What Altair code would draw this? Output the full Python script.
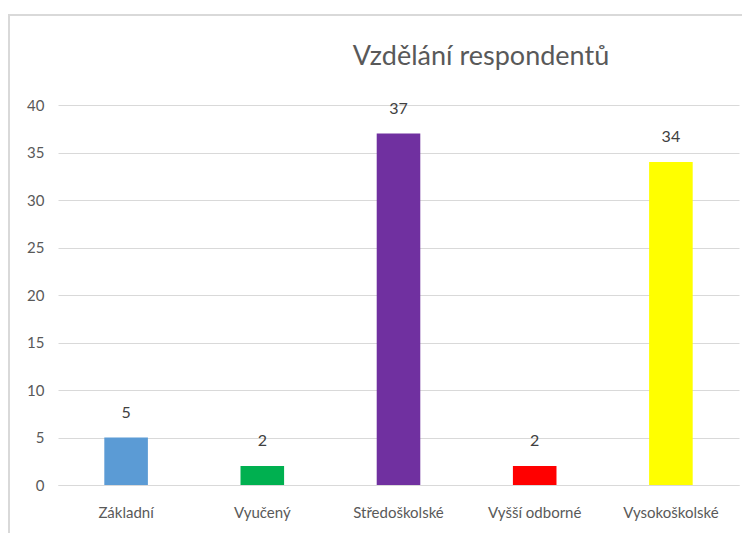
import altair as alt
import pandas as pd

categories = ["Základní", "Vyučený", "Středoškolské", "Vyšší odborné", "Vysokoškolské"]
values = [5, 2, 37, 2, 34]
colors = ["#5b9bd5", "#00b050", "#7030a0", "#ff0000", "#ffff00"]
title_text = "Vzdělání respondentů"

df = pd.DataFrame({"kat": categories, "pocet": values})

FONT = "Lato"
W, H = 681, 380

x_enc = alt.X("kat:N", sort=categories, title=None,
              scale=alt.Scale(paddingInner=0.68, paddingOuter=0.34),
              axis=alt.Axis(labelAngle=0, labelFontSize=15, labelColor="#595959",
                            labelFont=FONT, labelPadding=20, ticks=False,
                            domainColor="#d9d9d9", domainWidth=1))
y_enc = alt.Y("pocet:Q", title=None,
              scale=alt.Scale(domain=[0, 40]),
              axis=alt.Axis(values=[0, 5, 10, 15, 20, 25, 30, 35, 40], labelFontSize=15,
                            labelColor="#595959", labelFont=FONT, labelPadding=14,
                            ticks=False, domain=False, gridColor="#d9d9d9"))

bars = alt.Chart(df).mark_bar().encode(
    x=x_enc, y=y_enc,
    color=alt.Color("kat:N", scale=alt.Scale(domain=categories, range=colors), legend=None),
)

labels = alt.Chart(df).mark_text(dy=-17, baseline="bottom", fontSize=16, font=FONT,
                                 color="#404040").encode(
    x=alt.X("kat:N", sort=categories), y="pocet:Q", text="pocet:Q"
)

frame = alt.Chart(df).mark_rect(fillOpacity=0, stroke="#d9d9d9", strokeWidth=1.5).encode(
    x=alt.value(-49), x2=alt.value(W + 40), y=alt.value(-90), y2=alt.value(H + 80)
)

title = alt.Chart(pd.DataFrame({"t": [title_text]})).mark_text(
    font=FONT, fontSize=27, color="#595959", align="center", baseline="alphabetic"
).encode(x=alt.value(423), y=alt.value(-40), text="t:N")

chart = alt.layer(frame, bars, labels, title).properties(
    width=W, height=H,
    autosize=alt.AutoSizeParams(type="none"),
    padding={"left": 50, "top": 97, "right": 3, "bottom": 48},
).configure_view(stroke=None)

chart.save("out.html", embed_options={"renderer": "svg", "actions": False})
